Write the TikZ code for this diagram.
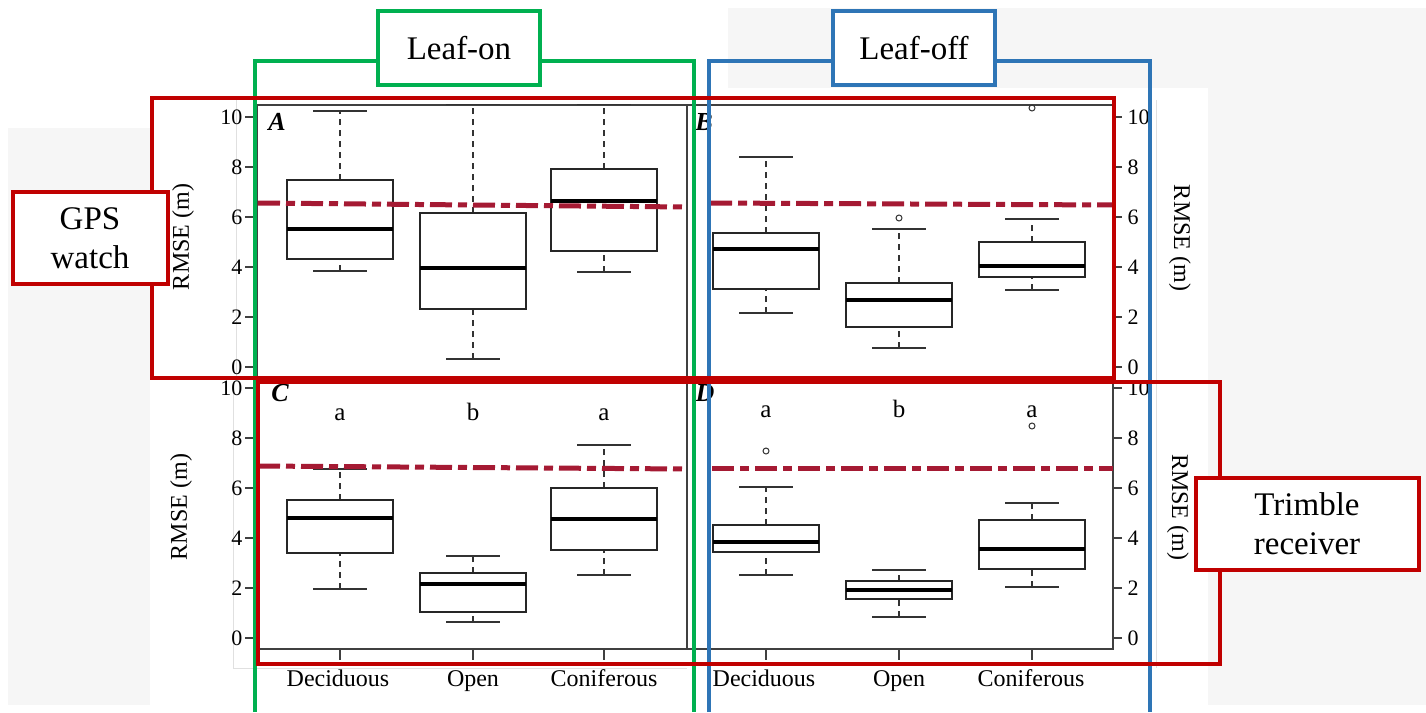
\documentclass[tikz,border=0pt]{standalone}
\usepackage{fontspec}
\setmainfont{Liberation Serif}
\definecolor{fred}{HTML}{C00000}
\definecolor{fgreen}{HTML}{00B050}
\definecolor{fblue}{HTML}{2E75B6}
\definecolor{refred}{HTML}{A51A33}
\definecolor{bgc}{HTML}{F6F6F6}
\newcommand{\bxp}[7]{%
  \draw[whisk] (#1,{#2-25*#6}) -- (#1,{#2-25*#7});
  \draw[whisk] (#1,{#2-25*#3}) -- (#1,{#2-25*#4});
  \draw[wcap] ({#1-27},{#2-25*#7}) -- ({#1+27},{#2-25*#7});
  \draw[wcap] ({#1-27},{#2-25*#3}) -- ({#1+27},{#2-25*#3});
  \draw[bxbox] ({#1-53},{#2-25*#4}) rectangle ({#1+53},{#2-25*#6});
  \draw[bxmed] ({#1-53},{#2-25*#5}) -- ({#1+53},{#2-25*#5});
}
\begin{document}
\begin{tikzpicture}[x=1pt,y=-1pt,
  bxbox/.style={draw=black!85,line width=1.4pt,fill=white},
  bxmed/.style={draw=black,line width=4pt},
  whisk/.style={draw=black!80,line width=1.2pt,dash pattern=on 6pt off 5pt},
  wcap/.style={draw=black!80,line width=1.4pt},
  pframe/.style={draw=black!75,line width=1.3pt},
  faint/.style={draw=black!12,line width=1pt},
  refline/.style={draw=refred,line width=5pt,dash pattern=on 22pt off 6pt on 9pt off 6pt},
  outl/.style={draw=black!80,line width=1pt},
  ticklab/.style={font=\fontsize{22}{22}\selectfont},
  axlab/.style={font=\fontsize{24}{24}\selectfont},
  plet/.style={font=\fontsize{26}{26}\selectfont\bfseries\itshape},
  grp/.style={anchor=base,font=\fontsize{25}{25}\selectfont},
  tag/.style={fill=white,line width=4pt,inner sep=0pt,align=center,font=\fontsize{33}{39}\selectfont},
  gframe/.style={draw=fgreen,line width=3.5pt},
  bframe/.style={draw=fblue,line width=4pt},
  rframe/.style={draw=fred,line width=4pt}]
\useasboundingbox (0,0) rectangle (1426,712);
% background
\fill[bgc] (8,128) rectangle (1426,705);
\fill[bgc] (728,8) rectangle (1426,128);
\fill[white] (150,88) rectangle (1208,705);
% faint axis lines
\draw[faint] (236,100) -- (236,378);
\draw[faint] (233,386) -- (233,668) -- (687,668);
\draw[faint] (1156,100) -- (1156,668);
% plot borders
\draw[pframe] (257,105) -- (1113,105);
\draw[pframe] (257,105) -- (257,378);
\draw[pframe] (687,105) -- (687,649);
\draw[pframe] (1113,105) -- (1113,378);
\draw[pframe] (257,384) -- (257,649) -- (1113,649) -- (1113,384);
% ticks and tick labels
\foreach \v in {0,2,4,6,8,10}{
  \draw[pframe] (245,{367-25*\v}) -- (255,{367-25*\v});
  \node[ticklab,anchor=east] (ta\v) at (246,{367-25*\v}) {\v};
  \draw[pframe] (1113,{367-25*\v}) -- (1122,{367-25*\v});
  \node[ticklab,anchor=west] (tb\v) at (1124,{367-25*\v}) {\v};
  \draw[pframe] (245,{638-25*\v}) -- (255,{638-25*\v});
  \node[ticklab,anchor=east] (tc\v) at (246,{638-25*\v}) {\v};
  \draw[pframe] (1113,{638-25*\v}) -- (1122,{638-25*\v});
  \node[ticklab,anchor=west] (td\v) at (1124,{638-25*\v}) {\v};
}
\foreach \cx in {340,473,604,766,899,1032}{
  \draw[pframe] (\cx,649) -- (\cx,660);
}
% axis labels
\node[axlab,rotate=90] (ya) at (183,237) {RMSE (m)};
\node[axlab,rotate=90] (yc) at (181,507) {RMSE (m)};
\node[axlab,rotate=-90] (yb) at (1180,238) {RMSE (m)};
\node[axlab,rotate=-90] (yd) at (1178,507) {RMSE (m)};
\node[axlab,anchor=base] (xc1) at (338,686) {Deciduous};
\node[axlab,anchor=base] (xc2) at (473,686) {Open};
\node[axlab,anchor=base] (xc3) at (604,686) {Coniferous};
\node[axlab,anchor=base] (xd1) at (764,686) {Deciduous};
\node[axlab,anchor=base] (xd2) at (899,686) {Open};
\node[axlab,anchor=base] (xd3) at (1031,686) {Coniferous};
% panel letters
\node[plet] (pA) at (277,122) {A};
\node[plet] (pB) at (704,122) {B};
\node[plet] (pC) at (280,393) {C};
\node[plet] (pD) at (705,393) {D};
% group letters
\node[grp] (gc1) at (340,420) {a};
\node[grp] (gc2) at (473,420) {b};
\node[grp] (gc3) at (604,420) {a};
\node[grp] (gd1) at (766,417) {a};
\node[grp] (gd2) at (899,417) {b};
\node[grp] (gd3) at (1032,417) {a};
% boxplots A
\bxp{340}{367}{3.84}{4.32}{5.52}{7.48}{10.24}
\bxp{473}{367}{0.32}{2.32}{3.96}{6.16}{10.5}
\bxp{604}{367}{3.8}{4.64}{6.64}{7.92}{10.5}
% B
\bxp{766}{367}{2.16}{3.12}{4.72}{5.36}{8.4}
\bxp{899}{367}{0.76}{1.6}{2.68}{3.36}{5.52}
\bxp{1032}{367}{3.08}{3.6}{4.04}{5.0}{5.92}
\draw[outl] (899,218) circle (3);
\draw[outl] (1032,108) circle (3);
% C
\bxp{340}{638}{1.96}{3.4}{4.8}{5.52}{6.76}
\bxp{473}{638}{0.64}{1.04}{2.16}{2.6}{3.28}
\bxp{604}{638}{2.52}{3.52}{4.76}{6.0}{7.72}
% D
\bxp{766}{638}{2.52}{3.44}{3.84}{4.52}{6.04}
\bxp{899}{638}{0.84}{1.56}{1.92}{2.28}{2.72}
\bxp{1032}{638}{2.04}{2.76}{3.56}{4.72}{5.4}
\draw[outl] (766,451) circle (3);
\draw[outl] (1032,426) circle (3);
% reference lines
\draw[refline] (258,203) -- (687,207);
\draw[refline] (710,203) -- (1113,205);
\draw[refline] (258,466) -- (687,469);
\draw[refline] (712,468) -- (1113,468);
% leaf frames
\draw[gframe] (255,712) -- (255,61) -- (694,61) -- (694,712);
\draw[bframe] (709,712) -- (709,61) -- (1150,61) -- (1150,712);
% receiver frames
\draw[rframe] (152,98) rectangle (1114,378);
\draw[rframe] (258,382) rectangle (1220,664);
% tags
\node[tag,draw=fgreen,minimum width=162pt,minimum height=74pt] (leafon) at (459,48) {Leaf-on};
\node[tag,draw=fblue,minimum width=162pt,minimum height=74pt] (leafoff) at (914,48) {Leaf-off};
\node[tag,draw=fred,minimum width=155pt,minimum height=92pt] (gps) at (90,238) {GPS\\watch};
\node[tag,draw=fred,minimum width=223pt,minimum height=92pt] (trimble) at (1307,524) {Trimble\\receiver};
\end{tikzpicture}
\end{document}
